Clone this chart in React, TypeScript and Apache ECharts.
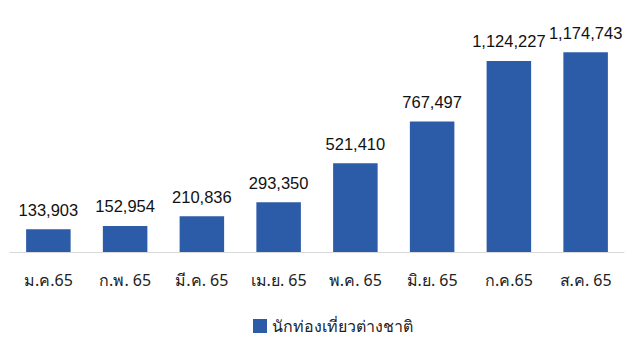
import React, { useEffect, useRef } from "react";
import * as echarts from "echarts";

const categories = ["ม.ค.65", "ก.พ. 65", "มี.ค. 65", "เม.ย. 65", "พ.ค. 65", "มิ.ย. 65", "ก.ค.65", "ส.ค. 65"];
const tourists = [133903, 152954, 210836, 293350, 521410, 767497, 1124227, 1174743];
const seriesName = "นักท่องเที่ยวต่างชาติ";

export default function App() {
  const ref = useRef<HTMLDivElement>(null);
  useEffect(() => {
    const chart = echarts.init(ref.current!, undefined, { renderer: "svg" });
    chart.setOption({
      animation: false,
      grid: { left: 10, right: 6, top: 14, bottom: 100, containLabel: false },
      legend: {
        top: 313,
        left: 248,
        itemWidth: 14,
        itemHeight: 14,
        itemGap: 5,
        icon: "rect",
        textStyle: { fontSize: 16, color: "#222", fontFamily: "Noto Sans, sans-serif" },
        data: [seriesName],
      },
      xAxis: {
        type: "category",
        data: categories,
        axisLine: { lineStyle: { color: "#d9d9d9", width: 1 } },
        axisTick: { show: false },
        axisLabel: { color: "#222", fontSize: 16, margin: 20, fontFamily: "Noto Sans, sans-serif" },
      },
      yAxis: {
        type: "value",
        min: 0,
        max: 1400000,
        show: false,
        splitLine: { show: false },
      },
      series: [
        {
          name: seriesName,
          type: "bar",
          data: tourists,
          barWidth: "58%",
          itemStyle: { color: "#2c5ba8" },
          label: {
            show: true,
            position: "top",
            distance: 11,
            color: "#111",
            fontSize: 16.5,
            fontFamily: "Liberation Sans, Arial, sans-serif",
            formatter: (p: any) => Number(p.value).toLocaleString("en-US"),
          },
        },
      ],
    });
    return () => chart.dispose();
  }, []);
  return <div ref={ref} style={{ width: 630, height: 352, position: "absolute", left: 0, top: 0 }} />;
}
